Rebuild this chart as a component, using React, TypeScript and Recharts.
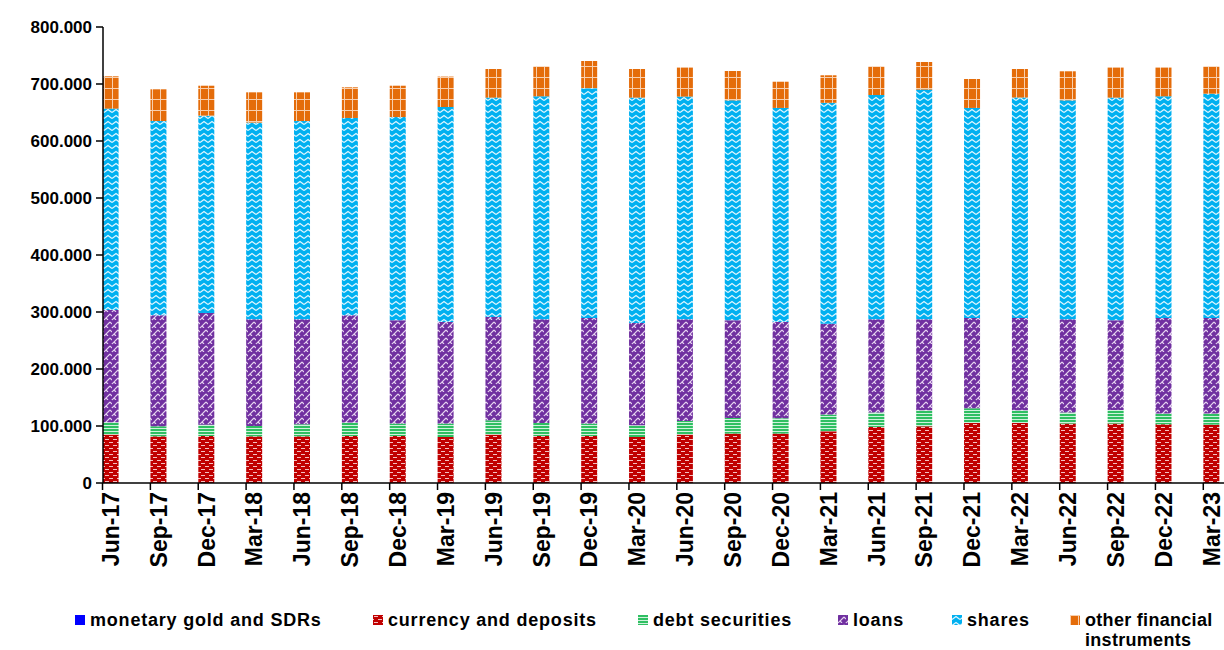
import React from 'react';
import { BarChart, Bar, XAxis, YAxis } from 'recharts';

const categories = [
  'Jun-17', 'Sep-17', 'Dec-17', 'Mar-18', 'Jun-18', 'Sep-18', 'Dec-18', 'Mar-19',
  'Jun-19', 'Sep-19', 'Dec-19', 'Mar-20', 'Jun-20', 'Sep-20', 'Dec-20', 'Mar-21',
  'Jun-21', 'Sep-21', 'Dec-21', 'Mar-22', 'Jun-22', 'Sep-22', 'Dec-22', 'Mar-23',
];

// values in thousands
const gold = [0, 0, 0, 0, 0, 0, 0, 0, 0, 0, 0, 0, 0, 0, 0, 0, 0, 0, 0, 0, 0, 0, 0, 0];
const currency = [84.9, 81.9, 82.5, 81.9, 81.9, 82.5, 82.5, 80.7, 84.9, 82.5, 82.5, 80.7, 84.9, 86.7, 86.7, 90.7, 98.3, 99.5, 105.3, 105.3, 104.2, 104.2, 103, 102.4];
const debt = [21.6, 17.6, 19.9, 18.1, 21.1, 23.5, 21.7, 23.5, 25.1, 22.8, 21.7, 20.5, 23.9, 27.3, 26.8, 29.3, 25.2, 28, 25.7, 22.2, 19.3, 23.8, 18.8, 19.4];
const loans = [197, 194.7, 195.9, 187.2, 184.2, 188.2, 181.2, 178.3, 181.2, 181.9, 185.3, 179.5, 178.4, 171.4, 169, 159.6, 163.7, 159.7, 158.5, 162, 163.7, 157.4, 167.7, 167.7];
const shares = [353.3, 340.8, 346.2, 345.1, 347.8, 346.2, 356.6, 377.1, 384.9, 391.2, 403, 395.4, 390.7, 386, 375.5, 387.4, 393.5, 403, 368.5, 386.6, 384.2, 390.7, 388.9, 393.5];
const other = [56.7, 55.7, 52.5, 53.1, 50.4, 53.8, 55, 53.4, 50.2, 52.6, 47.9, 50.2, 50.9, 51.4, 46, 48.3, 50.3, 48.4, 50.8, 50.2, 50.9, 52.7, 50.4, 48];

const yTicks = [0, 100, 200, 300, 400, 500, 600, 700, 800];

const series = [
  { key: 'gold', name: 'monetary gold and SDRs', fill: 'url(#pGold)' },
  { key: 'currency', name: 'currency and deposits', fill: 'url(#pCur)' },
  { key: 'debt', name: 'debt securities', fill: 'url(#pDebt)' },
  { key: 'loans', name: 'loans', fill: 'url(#pLoans)' },
  { key: 'shares', name: 'shares', fill: 'url(#pShares)' },
  { key: 'other', name: 'other financial instruments', fill: 'url(#pOther)' },
];

const data = categories.map((c, i) => ({
  idx: i,
  cat: c,
  gold: gold[i],
  currency: currency[i],
  debt: debt[i],
  loans: loans[i],
  shares: shares[i],
  other: other[i],
}));

const FONT = 'Arial, "Liberation Sans", sans-serif';

const Patterns = () => (
  <svg width={0} height={0} style={{ position: 'absolute' }}>
    <defs>
      <pattern id="pGold" width={4} height={4} patternUnits="userSpaceOnUse">
        <rect width={4} height={4} fill="#0000FF" />
      </pattern>
      <pattern id="pCur" width={8} height={6} patternUnits="userSpaceOnUse">
        <rect width={8} height={6} fill="#C00000" />
        <rect x={1} y={1} width={4} height={1} fill="#F4C0C0" />
        <rect x={5} y={4} width={3} height={1} fill="#F4C0C0" />
        <rect x={0} y={4} width={1} height={1} fill="#F4C0C0" />
      </pattern>
      <pattern id="pDebt" width={4} height={3} patternUnits="userSpaceOnUse">
        <rect width={4} height={3} fill="#2FBF62" />
        <rect y={2} width={4} height={1} fill="#CFF2DC" />
      </pattern>
      <pattern id="pLoans" width={8} height={8} patternUnits="userSpaceOnUse">
        <rect width={8} height={8} fill="#7030A0" />
        <path d="M0,8 L6,2 M6,10 L10,6 M-2,2 L0,0" stroke="#E6D4F0" strokeWidth={1.1} fill="none" />
        <path d="M6,2 L8,4 M2,6 L4,8" stroke="#E6D4F0" strokeWidth={1.1} fill="none" />
      </pattern>
      <pattern id="pShares" width={8} height={6} patternUnits="userSpaceOnUse">
        <rect width={8} height={6} fill="#00B0F0" />
        <path d="M0,4.5 L4,1.5 L8,4.5" stroke="#E0F6FF" strokeWidth={1.2} fill="none" />
      </pattern>
      <pattern id="pOther" width={8} height={11} patternUnits="userSpaceOnUse">
        <rect width={8} height={11} fill="#E46C0A" />
        <rect x={0} y={0} width={1} height={11} fill="#F8CFAE" />
        <rect x={0} y={0} width={8} height={1} fill="#F8CFAE" />
      </pattern>
    </defs>
  </svg>
);

const XTick = (props: any) => {
  const { x, y, payload } = props;
  return (
    <g>
      <line x1={x - 8} y1={y} x2={x - 8} y2={y + 7} stroke="#000" strokeWidth={1.5} />
      <text
        transform={`translate(${x},${y + 9}) rotate(-90)`}
        textAnchor="end"
        dy="0.36em"
        fontSize={23}
        fontWeight="bold"
        fontFamily={FONT}
        fill="#000"
      >
        {categories[payload.value]}
      </text>
    </g>
  );
};

const legendLefts = [75, 373, 638, 838, 952, 1070];

const ChartLegend = () => (
  <div style={{ position: 'absolute', left: 0, top: 610, width: 1224, height: 40, fontFamily: FONT, fontWeight: 'bold', fontSize: 18, letterSpacing: 0.8, color: '#000' }}>
    {series.map((s, i) => (
      <div key={s.key} style={{ position: 'absolute', left: legendLefts[i], top: 0, display: 'flex', alignItems: 'flex-start' }}>
        <svg width={10} height={10} style={{ marginTop: 5, marginRight: 5, flex: 'none' }}>
          <rect width={10} height={10} fill={s.fill} />
        </svg>
        <span
          style={{
            lineHeight: '20px',
            whiteSpace: i === 5 ? 'normal' : 'nowrap',
            width: i === 5 ? 136 : undefined,
            letterSpacing: i === 5 ? 0.3 : undefined,
          }}
        >
          {s.name}
        </span>
      </div>
    ))}
  </div>
);

export default function App() {
  return (
    <div style={{ position: 'absolute', left: 0, top: 0, width: 1224, height: 650, overflow: 'hidden', background: '#fff' }}>
      <Patterns />
      <BarChart width={1250} height={650} data={data} margin={{ top: 27, right: 10, bottom: 0, left: 0 }}>
        <XAxis
          dataKey="idx"
          type="number"
          domain={[-0.157, 23.6]}
          allowDataOverflow
          ticks={categories.map((_, i) => i)}
          interval={0}
          tickLine={false}
          tickSize={0}
          tickMargin={0}
          height={167}
          axisLine={{ stroke: '#000', strokeWidth: 1.5 }}
          tick={<XTick />}
        />
        <YAxis
          width={103}
          domain={[0, 800]}
          ticks={yTicks}
          interval={0}
          tickSize={7}
          tickMargin={4}
          tickLine={{ stroke: '#000', strokeWidth: 1.5 }}
          axisLine={{ stroke: '#000', strokeWidth: 1.5 }}
          tick={{ fontSize: 17, fontWeight: 'bold', fill: '#000', fontFamily: FONT }}
          tickFormatter={(v: number) => (v === 0 ? '0' : `${v}.000`)}
        />
        {series.map((s) => (
          <Bar key={s.key} dataKey={s.key} name={s.name} stackId="a" fill={s.fill} barSize={16} isAnimationActive={false} />
        ))}
      </BarChart>
      <ChartLegend />
    </div>
  );
}
